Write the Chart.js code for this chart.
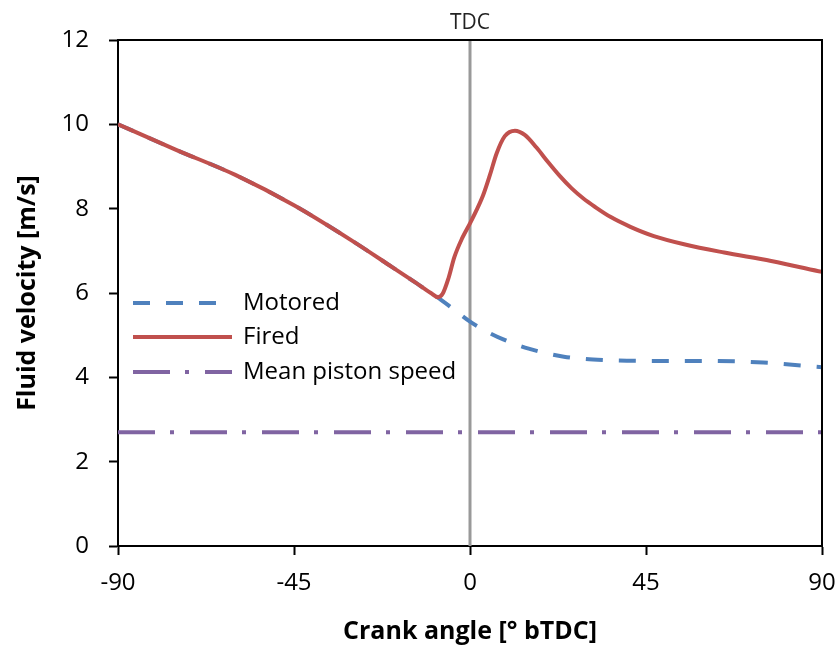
<!DOCTYPE html>
<html>
<head>
<meta charset="utf-8">
<script src="https://cdn.jsdelivr.net/npm/chart.js@4/dist/chart.umd.min.js"></script>
<style>
  html, body { margin: 0; padding: 0; background: #fff; }
  #wrap { width: 839px; height: 648px; }
</style>
</head>
<body>
<div id="wrap"><canvas id="myChart" width="839" height="648"></canvas></div>
<script>
// crank angle [deg bTDC] and fluid velocity [m/s]
var firedAngle = [-90, -75, -60, -45, -30, -20, -14, -10, -8.2, -7, -5.5, -4, -2, 0, 1.7, 3.4, 5.1, 6.8, 8.9, 11.5, 14, 17, 20, 23, 26, 29, 32, 36, 41, 47, 55, 65, 77, 90];
var firedVel   = [10.0, 9.39, 8.80, 8.08, 7.23, 6.62, 6.25, 6.00, 5.90, 5.98, 6.35, 6.85, 7.30, 7.65, 7.97, 8.33, 8.80, 9.31, 9.72, 9.85, 9.75, 9.45, 9.10, 8.77, 8.48, 8.24, 8.04, 7.80, 7.57, 7.35, 7.15, 6.96, 6.76, 6.50];

var motoredAngle = [-90, -75, -60, -45, -30, -20, -14, -10, -8, -4, 0, 4, 8.5, 15, 24, 34, 47, 60, 75, 90];
var motoredVel   = [10.0, 9.39, 8.80, 8.08, 7.23, 6.62, 6.25, 6.00, 5.88, 5.60, 5.32, 5.10, 4.90, 4.68, 4.49, 4.41, 4.39, 4.39, 4.35, 4.24];

var pistonAngle = [-90, 90];
var pistonVel   = [2.7, 2.7];

var seriesNames = ["Motored", "Fired", "Mean piston speed"];
var xTicks = [-90, -45, 0, 45, 90];
var yTicks = [0, 2, 4, 6, 8, 10, 12];
var tdcAngle = 0;

function toPoints(xs, ys) {
    var pts = [];
    for (var i = 0; i < xs.length; i++) {
        pts.push({ x: xs[i], y: ys[i] });
    }
    return pts;
}

var FONT = "'Open Sans', 'DejaVu Sans', sans-serif";

// frame, TDC marker and in-plot legend
var extras = {
    id: 'extras',
    beforeDatasetsDraw: function (chart) {
        var ctx = chart.ctx, a = chart.chartArea;
        var x = chart.scales.x.getPixelForValue(tdcAngle);
        ctx.save();
        ctx.strokeStyle = '#999999';
        ctx.lineWidth = 3;
        ctx.beginPath();
        ctx.moveTo(x, a.top);
        ctx.lineTo(x, a.bottom);
        ctx.stroke();
        ctx.restore();
    },
    afterDraw: function (chart) {
        var ctx = chart.ctx, a = chart.chartArea;
        ctx.save();
        ctx.strokeStyle = '#000';
        ctx.lineWidth = 2;
        ctx.beginPath();
        ctx.moveTo(a.left, a.top);
        ctx.lineTo(a.right, a.top);
        ctx.lineTo(a.right, a.bottom);
        ctx.stroke();

        var x = chart.scales.x.getPixelForValue(tdcAngle);
        ctx.fillStyle = '#222';
        ctx.font = "21px " + FONT;
        ctx.textAlign = 'center';
        ctx.textBaseline = 'middle';
        ctx.fillText("TDC", x, 23);

        // legend
        var rows = [303, 337, 372];
        var ds = chart.data.datasets;
        ctx.font = "24px " + FONT;
        ctx.textAlign = 'left';
        for (var i = 0; i < ds.length; i++) {
            ctx.strokeStyle = ds[i].borderColor;
            ctx.lineWidth = 4;
            ctx.setLineDash(ds[i].borderDash || []);
            ctx.beginPath();
            ctx.moveTo(133, rows[i]);
            ctx.lineTo(232, rows[i]);
            ctx.stroke();
            ctx.setLineDash([]);
            ctx.fillStyle = '#000';
            ctx.fillText(ds[i].label, 243, rows[i]);
        }
        ctx.restore();
    }
};

const config = {
    type: 'line',
    data: {
        datasets: [
            {
                label: seriesNames[0],
                data: toPoints(motoredAngle, motoredVel),
                borderColor: '#4F81BD',
                borderWidth: 4,
                borderDash: [17, 16],
                pointRadius: 0,
                cubicInterpolationMode: 'monotone',
                order: 2
            },
            {
                label: seriesNames[1],
                data: toPoints(firedAngle, firedVel),
                borderColor: '#C0504D',
                borderWidth: 4,
                pointRadius: 0,
                cubicInterpolationMode: 'monotone',
                order: 1
            },
            {
                label: seriesNames[2],
                data: toPoints(pistonAngle, pistonVel),
                borderColor: '#8064A2',
                borderWidth: 4,
                borderDash: [37, 15, 4, 16],
                pointRadius: 0,
                order: 3
            }
        ]
    },
    options: {
        responsive: false,
        animation: false,
        layout: { padding: { top: 40, right: 17, left: 0, bottom: 0 } },
        plugins: {
            legend: { display: false },
            tooltip: { enabled: false }
        },
        scales: {
            x: {
                type: 'linear',
                min: -90,
                max: 90,
                afterBuildTicks: function (s) { s.ticks = xTicks.map(function (v) { return { value: v }; }); },
                afterFit: function (s) { s.height = 102; s.paddingLeft = 0; s.paddingRight = 0; },
                grid: { drawOnChartArea: false, drawTicks: true, tickLength: 9, tickWidth: 2, color: '#000' },
                border: { display: true, color: '#000', width: 2 },
                ticks: { color: '#000', font: { family: FONT, size: 24 }, padding: 14, maxRotation: 0 },
                title: {
                    display: true,
                    text: 'Crank angle [° bTDC]',
                    color: '#000',
                    font: { family: FONT, size: 25, weight: 'bold', lineHeight: 1.2 },
                    padding: { top: 0, bottom: 1 }
                }
            },
            y: {
                min: 0,
                max: 12,
                afterBuildTicks: function (s) { s.ticks = yTicks.map(function (v) { return { value: v }; }); },
                afterFit: function (s) { s.width = 118; s.paddingTop = 0; s.paddingBottom = 0; },
                grid: { drawOnChartArea: false, drawTicks: true, tickLength: 9, tickWidth: 2, color: '#000' },
                border: { display: true, color: '#000', width: 2 },
                ticks: { color: '#000', font: { family: FONT, size: 24 }, padding: 20 },
                title: {
                    display: true,
                    text: 'Fluid velocity [m/s]',
                    color: '#000',
                    font: { family: FONT, size: 25, weight: 'bold', lineHeight: 1.2 },
                    padding: { top: 13, bottom: 0 }
                }
            }
        }
    },
    plugins: [extras]
};

new Chart(document.getElementById('myChart'), config);
</script>
</body>
</html>
